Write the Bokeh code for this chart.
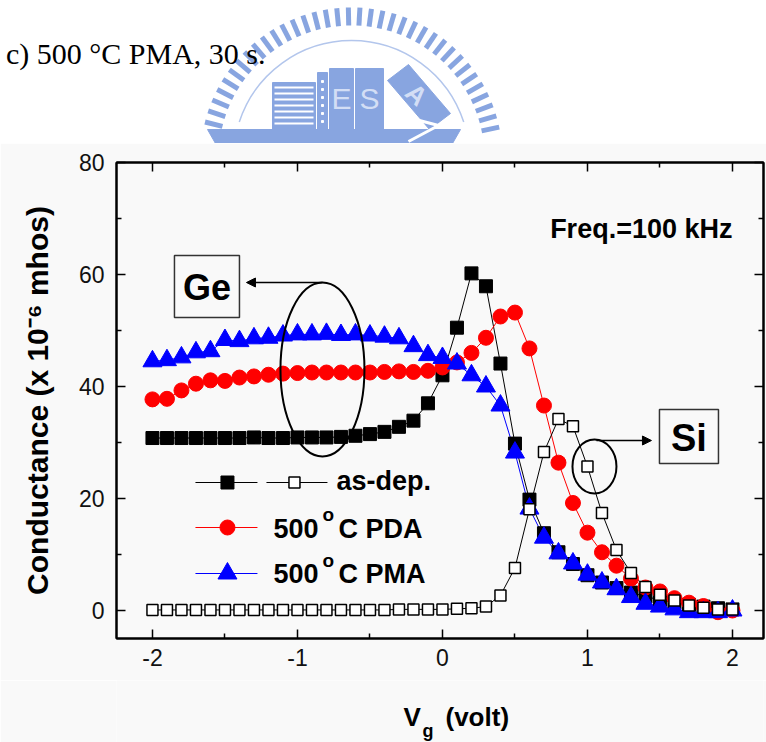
import numpy as np
from bokeh.plotting import figure
from bokeh.models import (FixedTicker, LinearAxis, Arrow, NormalHead, Range1d,
                          CustomJSTickFormatter)
from bokeh.layouts import column
from bokeh.embed import file_html
from bokeh.resources import INLINE
from bokeh.core.properties import value

# ---------------- data ----------------
vg = [-2.0, -1.9, -1.8, -1.7, -1.6, -1.5, -1.4, -1.3, -1.2, -1.1, -1.0, -0.9, -0.8, -0.7,
      -0.6, -0.5, -0.4, -0.3, -0.2, -0.1, 0.0, 0.1, 0.2, 0.3, 0.4, 0.5, 0.6, 0.7, 0.8, 0.9,
      1.0, 1.1, 1.2, 1.3, 1.4, 1.5, 1.6, 1.7, 1.8, 1.9, 2.0]

ge_asdep = [30.8, 30.8, 30.8, 30.8, 30.8, 30.8, 30.8, 30.9, 30.8, 30.8, 30.9, 30.9, 30.9, 31.0,
            31.2, 31.5, 31.9, 32.8, 33.9, 37.0, 42.0, 50.5, 60.2, 57.9, 44.1, 29.8, 19.8, 13.8,
            10.4, 8.3, 6.3, 5.0, 4.0, 3.2, 2.5, 1.9, 1.4, 1.0, 0.7, 0.4, 0.2]

si_asdep = [0.1, 0.1, 0.1, 0.1, 0.1, 0.1, 0.1, 0.1, 0.1, 0.1, 0.1, 0.1, 0.1, 0.1,
            0.1, 0.1, 0.1, 0.2, 0.2, 0.2, 0.2, 0.3, 0.4, 0.7, 2.7, 7.6, 18.1, 28.3,
            34.2, 32.9, 25.7, 17.4, 10.8, 6.7, 4.2, 2.8, 1.8, 0.9, 0.5, 0.2, 0.2]

pda = [37.7, 37.8, 39.3, 40.5, 41.1, 41.0, 41.6, 41.8, 42.1, 42.3, 42.4, 42.5, 42.5, 42.5,
       42.5, 42.5, 42.6, 42.7, 42.6, 42.8, 43.4, 44.3, 46.0, 48.7, 52.5, 53.2, 46.8, 36.6,
       26.4, 19.2, 13.9, 10.4, 8.0, 5.7, 4.1, 3.4, 2.2, 1.4, 0.8, -0.3, 0.0]

pma = [44.5, 44.7, 45.2, 46.1, 46.3, 48.3, 48.1, 48.6, 48.7, 49.1, 49.3, 49.3, 49.4, 49.2,
       49.3, 49.1, 48.9, 48.6, 47.2, 45.6, 45.1, 44.1, 42.0, 40.0, 36.6, 28.2, 18.2, 13.0,
       10.2, 8.4, 6.4, 5.0, 3.8, 2.4, 1.2, 0.7, 0.2, -0.3, -0.3, -0.3, 0.0]

x_ticks = [-2, -1, 0, 1, 2]
x_minor = [-1.5, -0.5, 0.5, 1.5]
y_ticks = [0, 20, 40, 60, 80]
y_minor = [10, 30, 50, 70]

legend_labels = ["as-dep.", "PDA", "PMA"]
freq_text = "Freq.=100 kHz"
page_title = "c) 500 \u00b0C PMA, 30 s."
y_title = "Conductance (x 10\u207b\u2076 mhos)"
x_title = ["V", "g", "(volt)"]

# ---------------- layout constants (picture pixels) ----------------
W = 766
TOP_H = 143          # white strip with caption and watermark
MID_H = 537          # chart
BOT_H = 62           # x-axis title strip
LEFT_B = 116
RIGHT_B = 3
CHART_BG = "#f9f9f9"
FONT = "Liberation Sans"
X_RANGE = (-2.248, 2.214)
Y_RANGE = (-5, 80)


def dx(px):  # picture pixel -> data x
    return (px - 442.0) / 145.0


def dy(py):  # picture pixel -> data y
    return (610.0 - py) / 5.6


def bare(fig, bg):
    fig.outline_line_color = None
    fig.background_fill_color = bg
    fig.border_fill_color = bg
    fig.grid.visible = False


# ---------------- top strip (caption + watermark) ----------------
top = figure(width=W, height=TOP_H, x_range=Range1d(0, W), y_range=Range1d(0, TOP_H),
             output_backend="svg", toolbar_location=None, title=None,
             x_axis_location=None, y_axis_location=None, min_border=0)
bare(top, "white")

LOGO = "#88a5e0"
LOGO_LIGHT = "#d3def5"
cx, cy = 351.0, -15.0
ang = np.deg2rad(np.arange(12, 170, 4.4))
top.segment(x0=cx + 133 * np.cos(ang), y0=cy + 133 * np.sin(ang),
            x1=cx + 151 * np.cos(ang), y1=cy + 151 * np.sin(ang),
            line_color=LOGO, line_width=5)
top.arc(x=[cx], y=[cy], radius=118, start_angle=np.deg2rad(18), end_angle=np.deg2rad(162),
        line_color="#b3c6ec", line_width=1.5)
top.patch(x=[207, 460, 452, 215], y=[14, 14, 0, 0], fill_color=LOGO, line_color=LOGO)
top.quad(left=[272], right=[315], bottom=[14], top=[61], fill_color=LOGO, line_color=LOGO)
stripe_y = [20, 26, 32, 38, 44, 50, 56]
top.segment(x0=[274] * 7, y0=stripe_y, x1=[313] * 7, y1=stripe_y, line_color="white",
            line_width=2)
top.quad(left=[317], right=[327], bottom=[14], top=[71], fill_color=LOGO, line_color=LOGO)
top.scatter(x=[322] * 6, y=[22, 30, 38, 46, 54, 62], marker="square", size=2, color="white")
top.quad(left=[329, 355], right=[353, 383], bottom=[14, 14], top=[75, 75],
         fill_color=LOGO, line_color=LOGO)
top.text(x=[341, 369], y=[45, 45], text=["E", "S"], text_font=value(FONT),
         text_font_size="30px", text_align="center", text_baseline="middle",
         text_color=LOGO_LIGHT)
top.patch(x=[387, 408, 450, 429], y=[63, 79, 30, 14], fill_color=LOGO, line_color=LOGO)
top.text(x=[416], y=[49], text=["A"], angle=-0.75, text_font=value(FONT),
         text_font_size="26px", text_font_style="bold", text_align="center",
         text_baseline="middle", text_color=LOGO_LIGHT)
top.line(x=[400, 438, 408], y=[28, 18, 2], line_color="white", line_width=3)

# caption: text centre at picture y = 53
top.text(x=[265], y=[TOP_H - 53], text=[page_title], text_font=value("Liberation Serif"),
         text_font_size="30px", text_align="right", text_baseline="middle",
         text_color="black")

# ---------------- main chart ----------------
p = figure(width=W, height=MID_H, x_range=Range1d(*X_RANGE),
           y_range=Range1d(*Y_RANGE), output_backend="svg", toolbar_location=None,
           title=None, min_border_left=LEFT_B, min_border_right=RIGHT_B, min_border_top=19,
           min_border_bottom=42)
p.background_fill_color = CHART_BG
p.border_fill_color = CHART_BG
p.outline_line_color = "black"
p.outline_line_width = 2
p.grid.visible = False


def style_axis(ax, labels=True):
    ax.axis_line_color = "black"
    ax.axis_line_width = 2
    ax.major_tick_line_color = "black"
    ax.minor_tick_line_color = "black"
    ax.major_tick_line_width = 1.5
    ax.minor_tick_line_width = 1.5
    ax.major_tick_in = 9
    ax.major_tick_out = 0
    ax.minor_tick_in = 5
    ax.minor_tick_out = 0
    if labels:
        ax.formatter = CustomJSTickFormatter(code="return tick.toFixed(0)")
        ax.major_label_text_font = FONT
        ax.major_label_text_font_size = "23px"
        ax.major_label_text_color = "#111111"
    else:
        ax.formatter = CustomJSTickFormatter(code="return ''")
        ax.major_label_standoff = 0
        ax.major_label_text_font_size = "10px"


xa = p.xaxis[0]
xa.ticker = FixedTicker(ticks=x_ticks, minor_ticks=x_minor)
style_axis(xa)
xa.major_label_standoff = 10
ya = p.yaxis[0]
ya.ticker = FixedTicker(ticks=y_ticks, minor_ticks=y_minor)
style_axis(ya)
ya.major_label_standoff = 12
ya.axis_label = y_title
ya.axis_label_text_font = FONT
ya.axis_label_text_font_style = "bold"
ya.axis_label_text_font_size = "30px"
ya.axis_label_text_color = "black"
ya.axis_label_standoff = 22

ax_top = LinearAxis(ticker=FixedTicker(ticks=x_ticks, minor_ticks=x_minor))
style_axis(ax_top, labels=False)
p.add_layout(ax_top, "above")
ax_right = LinearAxis(ticker=FixedTicker(ticks=y_ticks, minor_ticks=y_minor))
style_axis(ax_right, labels=False)
p.add_layout(ax_right, "right")

# series
p.line(vg, ge_asdep, line_color="black", line_width=1)
p.line(vg, pda, line_color="red", line_width=1)
p.line(vg, pma, line_color="blue", line_width=1)
p.line(vg, si_asdep, line_color="black", line_width=1)
p.scatter(vg, ge_asdep, marker="square", size=13, fill_color="black", line_color="black")
p.scatter(vg, pda, marker="circle", size=15, fill_color="red", line_color="red")
p.scatter(vg, pma, marker="triangle", size=19, fill_color="blue", line_color="blue")
p.scatter(vg, si_asdep, marker="square", size=11, fill_color="white", line_color="black",
          line_width=1.5)

# legend (manual)
rows_y = [dy(482), dy(527), dy(573)]
p.segment(x0=[dx(195), dx(266), dx(195), dx(195)],
          y0=[rows_y[0], rows_y[0], rows_y[1], rows_y[2]],
          x1=[dx(257), dx(327), dx(257), dx(257)],
          y1=[rows_y[0], rows_y[0], rows_y[1], rows_y[2]],
          line_color=["black", "black", "red", "blue"], line_width=1)
p.scatter([dx(227)], [rows_y[0]], marker="square", size=13, fill_color="black",
          line_color="black")
p.scatter([dx(294)], [rows_y[0]], marker="square", size=11, fill_color="white",
          line_color="black", line_width=1.5)
p.scatter([dx(227)], [rows_y[1]], marker="circle", size=15, color="red")
p.scatter([dx(227)], [rows_y[2]], marker="triangle", size=19, color="blue")

bold27 = dict(text_font=value(FONT), text_font_style="bold", text_font_size="27px",
              text_align="left", text_baseline="middle", text_color="black")
p.text(x=[dx(336)], y=[dy(480)], text=[legend_labels[0]], **bold27)
p.text(x=[dx(273), dx(273)], y=[dy(528), dy(573)], text=["500", "500"], **bold27)
p.text(x=[dx(338), dx(338)], y=[dy(528), dy(573)],
       text=["C " + legend_labels[1], "C " + legend_labels[2]], **bold27)
p.text(x=[dx(322), dx(322)], y=[dy(514), dy(560)], text=["o", "o"], text_font=value(FONT),
       text_font_style="bold", text_font_size="19px", text_align="left",
       text_baseline="middle", text_color="black")

# frequency note
p.text(x=[dx(732)], y=[dy(228)], text=[freq_text], text_font=value(FONT),
       text_font_style="bold", text_font_size="27px", text_align="right",
       text_baseline="middle", text_color="black")

# Ge / Si boxes, ellipses and arrows
p.quad(left=[dx(174), dx(659)], right=[dx(239), dx(718)], top=[dy(255), dy(409)],
       bottom=[dy(317), dy(463)], fill_alpha=0, line_color="#333333", line_width=1.5)
p.text(x=[dx(206.5)], y=[dy(287)], text=["Ge"], text_font=value(FONT), text_font_style="bold",
       text_font_size="36px", text_align="center", text_baseline="middle", text_color="black")
p.text(x=[dx(688.5)], y=[dy(437)], text=["Si"], text_font=value(FONT), text_font_style="bold",
       text_font_size="38px", text_align="center", text_baseline="middle", text_color="black")
p.ellipse(x=[dx(322), dx(594)], y=[dy(369), dy(466)], width=[84 / 145.0, 44 / 145.0],
          height=[174 / 5.6, 54 / 5.6], fill_alpha=0, line_color="black", line_width=2)
p.add_layout(Arrow(end=NormalHead(size=9, fill_color="black", line_color="black"),
                   x_start=dx(322), y_start=dy(282), x_end=dx(246), y_end=dy(282),
                   line_color="black", line_width=1.5))
p.add_layout(Arrow(end=NormalHead(size=9, fill_color="black", line_color="black"),
                   x_start=dx(596), y_start=dy(440), x_end=dx(651), y_end=dy(440),
                   line_color="black", line_width=1.5))

# ---------------- x-axis title strip (same side borders as the chart) ----------------
xlab = figure(width=W, height=BOT_H, x_range=Range1d(LEFT_B, W - RIGHT_B),
              y_range=Range1d(0, BOT_H), output_backend="svg", toolbar_location=None,
              title=None, x_axis_location=None, y_axis_location=None,
              min_border_left=LEFT_B, min_border_right=RIGHT_B,
              min_border_top=0, min_border_bottom=0)
bare(xlab, CHART_BG)
xtit = dict(text_font=value(FONT), text_font_style="bold", text_color="black",
            text_align="left", text_baseline="middle")
# text centres at picture y = 716 (V, (volt)) and 730 (subscript g)
xlab.text(x=[403, 445], y=[742 - 716, 742 - 716], text=[x_title[0], x_title[2]],
          text_font_size="26px", **xtit)
xlab.text(x=[422], y=[742 - 730], text=[x_title[1]], text_font_size="18px", **xtit)

chart = column(p, xlab, spacing=0)
open("out.html", "w").write(file_html([top, chart], INLINE))
